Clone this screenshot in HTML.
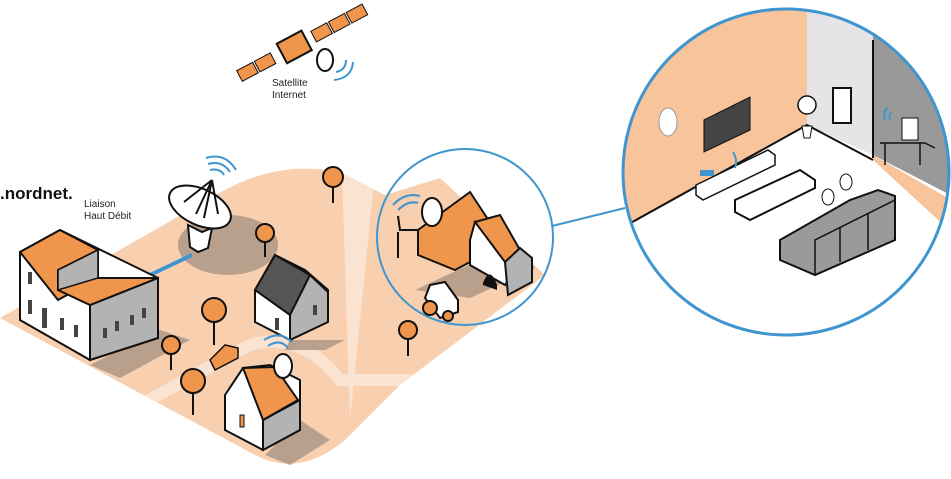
<!DOCTYPE html>
<html><head><meta charset="utf-8"><style>
html,body{margin:0;padding:0;background:#fff;}
svg{display:block;}
text{font-family:"Liberation Sans",sans-serif;}
</style></head><body>
<svg width="951" height="479" viewBox="0 0 951 479" xmlns="http://www.w3.org/2000/svg">
<defs>
<clipPath id="g"><path d="M0,318 L225,190 Q280,160 340,172 L385,195 L440,178 L545,275 L400,385 L345,440 Q300,478 255,455 Z"/></clipPath>
<clipPath id="c"><circle cx="786" cy="172" r="163"/></clipPath>
</defs>
<!-- ground -->
<path d="M0,318 L225,190 Q280,160 340,172 L385,195 L440,178 L545,275 L400,385 L345,440 Q300,478 255,455 Z" fill="#f8d0b0"/>
<g clip-path="url(#g)">
<path d="M140,405 L250,345 Q300,330 340,380 L420,380 L545,320" stroke="#fbe3d2" stroke-width="12" fill="none"/>
<path d="M342,172 L350,420 L375,172 Z" fill="#fbe3d2"/>
</g>
<!-- shadows -->
<ellipse cx="228" cy="245" rx="50" ry="30" fill="#b8a08c"/>
<path d="M160,330 L190,340 L120,378 L90,365 Z" fill="#b8a08c"/>
<path d="M290,340 L345,340 L325,350 L285,350 Z" fill="#b8a08c"/>
<path d="M265,455 L300,420 L330,440 L290,465 Z" fill="#b8a08c"/>
<!-- blue link -->
<line x1="150" y1="275" x2="192" y2="255" stroke="#3f95cf" stroke-width="4"/>
<!-- main building -->
<path d="M20,252 L60,230 L158,278 L158,338 L90,360 L20,320 Z" fill="#fff" stroke="#111" stroke-width="2"/>
<path d="M90,305 L158,278 L158,338 L90,360 Z" fill="#b3b3b3" stroke="#111" stroke-width="2"/>
<path d="M20,252 L60,230 L98,250 L98,278 L58,300 Z" fill="#f0954c" stroke="#111" stroke-width="2"/>
<path d="M58,270 L98,250 L98,278 L158,278 L90,305 L58,290 Z" fill="#f0954c" stroke="#111" stroke-width="2"/>
<path d="M58,270 L98,250 L98,278 L58,290 Z" fill="#b3b3b3" stroke="#111" stroke-width="1.5"/>
<g fill="#444"><rect x="28" y="272" width="4" height="12"/><rect x="28" y="300" width="4" height="14"/><rect x="42" y="308" width="5" height="20"/><rect x="60" y="318" width="4" height="12"/><rect x="74" y="325" width="4" height="12"/>
<rect x="103" y="328" width="4" height="10"/><rect x="115" y="321" width="4" height="10"/><rect x="130" y="315" width="4" height="10"/><rect x="142" y="308" width="4" height="10"/></g>
<!-- dish -->
<path d="M188,225 L202,232 L212,228 L208,248 L198,252 L190,247 Z" fill="#fff" stroke="#111" stroke-width="2"/>
<ellipse cx="200" cy="207" rx="33" ry="18" transform="rotate(25 200 207)" fill="#fff" stroke="#111" stroke-width="2"/>
<path d="M212,180 L184,202 M212,180 L204,218 M212,180 L218,214 M212,180 L196,214" stroke="#111" stroke-width="2"/>
<path d="M206,158 Q225,152 236,170 M208,164 Q222,160 230,172 M210,170 Q220,168 224,175" stroke="#3f95cf" stroke-width="2" fill="none"/>
<!-- grey house -->
<path d="M255,290 L275,255 L305,270 L328,290 L328,320 L290,340 L255,322 Z" fill="#fff" stroke="#111" stroke-width="2"/>
<path d="M290,310 L310,275 L328,292 L328,322 L290,340 Z" fill="#b3b3b3" stroke="#111" stroke-width="2"/>
<path d="M255,290 L275,255 L310,275 L290,315 Z" fill="#555" stroke="#111" stroke-width="2"/>
<rect x="313" y="305" width="4" height="10" fill="#444"/><rect x="275" y="318" width="4" height="12" fill="#444"/>
<!-- orange house -->
<path d="M225,395 L243,368 L270,365 L300,380 L300,430 L263,450 L225,430 Z" fill="#fff" stroke="#111" stroke-width="2"/>
<path d="M263,420 L300,400 L300,430 L263,450 Z" fill="#b3b3b3" stroke="#111" stroke-width="2"/>
<path d="M243,368 L275,367 L298,400 L263,420 Z" fill="#f0954c" stroke="#111" stroke-width="2"/>
<rect x="240" y="415" width="4" height="12" fill="#f0954c" stroke="#111"/>
<ellipse cx="283" cy="366" rx="9" ry="12" fill="#fff" stroke="#111" stroke-width="2"/>
<path d="M264,340 Q280,330 292,342 M268,346 Q280,338 288,348" stroke="#3f95cf" stroke-width="2" fill="none"/>
<!-- car -->
<path d="M210,360 L225,345 L238,348 L238,358 L215,370 Z" fill="#f0954c" stroke="#111" stroke-width="1.5"/>
<!-- trees -->
<g stroke="#111" stroke-width="2" fill="#f0954c">
<line x1="333" y1="178" x2="333" y2="203"/><circle cx="333" cy="177" r="10"/>
<line x1="265" y1="234" x2="265" y2="257"/><circle cx="265" cy="233" r="9"/>
<line x1="214" y1="312" x2="214" y2="345"/><circle cx="214" cy="310" r="12"/>
<line x1="171" y1="346" x2="171" y2="370"/><circle cx="171" cy="345" r="9"/>
<line x1="193" y1="383" x2="193" y2="415"/><circle cx="193" cy="381" r="12"/>
<line x1="408" y1="332" x2="408" y2="356"/><circle cx="408" cy="330" r="9"/>
</g>
<!-- small circle -->
<circle cx="465" cy="237" r="88" fill="none" stroke="#3f95cf" stroke-width="2"/>
<path d="M415,290 L512,245 L535,268 L470,298 Z" fill="#b8a08c"/>
<path d="M418,230 L470,192 L495,230 L495,250 L470,262 L455,270 L418,255 Z" fill="#f0954c" stroke="#111" stroke-width="2"/>
<path d="M470,240 L475,222 L520,262 L505,285 L470,265 Z" fill="#fff" stroke="#111" stroke-width="2"/>
<path d="M475,222 L500,215 L520,250 L505,262 Z" fill="#f0954c" stroke="#111" stroke-width="2"/>
<path d="M505,262 L520,248 L532,258 L532,282 L508,295 Z" fill="#b3b3b3" stroke="#111" stroke-width="2"/>
<path d="M483,283 Q490,265 497,285 L497,290 L483,285 Z" fill="#111"/>
<ellipse cx="432" cy="212" rx="10" ry="14" fill="#fff" stroke="#111" stroke-width="2"/>
<path d="M398,216 L400,230 L418,230 M398,232 L398,258" stroke="#111" stroke-width="2" fill="none"/>
<path d="M393,205 Q405,192 420,196 M398,210 Q408,200 418,203" stroke="#3f95cf" stroke-width="2" fill="none"/>
<path d="M425,298 L430,285 L445,282 L458,300 L458,312 L440,318 Z" fill="#fff" stroke="#111" stroke-width="2"/>
<circle cx="430" cy="308" r="7" fill="#f0954c" stroke="#111" stroke-width="2"/>
<circle cx="448" cy="316" r="5" fill="#f0954c" stroke="#111" stroke-width="2"/>
<!-- connector -->
<line x1="552" y1="226" x2="625" y2="208" stroke="#3f95cf" stroke-width="2"/>
<!-- big circle -->
<g clip-path="url(#c)">
<rect x="600" y="0" width="360" height="340" fill="#fff"/>
<path d="M600,0 L807,0 L807,125 L600,240 Z" fill="#f8c49c"/>
<path d="M807,0 L873,0 L873,155 L807,125 Z" fill="#e5e5e8"/>
<path d="M873,0 L960,0 L960,200 L873,155 Z" fill="#999"/>
<path d="M873,155 L960,205 L960,240 L873,160 Z" fill="#f8c49c"/>
<path d="M600,240 L807,125 L873,160 M873,40 L873,158" stroke="#111" stroke-width="2" fill="none"/>
<path d="M704,120 L750,97 L750,130 L704,152 Z" fill="#444" stroke="#111"/>
<rect x="833" y="88" width="18" height="35" fill="#fff" stroke="#111" stroke-width="2"/>
<path d="M696,185 L768,150 L775,155 L775,165 L703,200 L696,195 Z" fill="#fff" stroke="#111" stroke-width="1.5"/>
<rect x="700" y="170" width="14" height="6" fill="#3f95cf"/>
<path d="M735,200 L800,170 L815,180 L815,188 L750,220 L735,212 Z" fill="#fff" stroke="#111" stroke-width="2"/>
<path d="M780,240 L850,200 L878,190 L895,196 L895,240 L815,275 L780,260 Z" fill="#9a9a9a" stroke="#111" stroke-width="2"/>
<path d="M815,275 L815,240 L895,200 M840,228 L840,262 M868,214 L868,250" stroke="#111" stroke-width="1.5" fill="none"/>
<ellipse cx="828" cy="197" rx="6" ry="8" fill="#fff" stroke="#111"/>
<ellipse cx="846" cy="182" rx="6" ry="8" fill="#fff" stroke="#111"/>
<circle cx="807" cy="105" r="9" fill="#fff" stroke="#111" stroke-width="1.5"/>
<path d="M802,126 L812,126 L810,138 L804,138 Z" fill="#fff" stroke="#111"/>
<ellipse cx="668" cy="122" rx="9" ry="14" fill="#fff" stroke="#999"/>
<path d="M880,143 L925,143 L935,148 M885,143 L885,165 M920,143 L920,165" stroke="#111" stroke-width="1.5" fill="none"/>
<rect x="902" y="118" width="16" height="22" fill="#fff" stroke="#111"/>
<path d="M885,120 Q882,112 888,108 M890,120 Q888,115 892,112 M735,168 Q738,160 733,152" stroke="#3f95cf" stroke-width="2" fill="none"/>
</g>
<circle cx="786" cy="172" r="163" fill="none" stroke="#3f95cf" stroke-width="3"/>
<!-- satellite -->
<g transform="rotate(-28 300 45)">
<rect x="232" y="38" width="18" height="12" fill="#f0954c" stroke="#111"/>
<rect x="252" y="38" width="18" height="12" fill="#f0954c" stroke="#111"/>
<rect x="280" y="33" width="28" height="22" fill="#f0954c" stroke="#111" stroke-width="2"/>
<rect x="316" y="38" width="18" height="12" fill="#f0954c" stroke="#111"/>
<rect x="336" y="38" width="18" height="12" fill="#f0954c" stroke="#111"/>
<rect x="356" y="38" width="18" height="12" fill="#f0954c" stroke="#111"/>
</g>
<ellipse cx="325" cy="60" rx="8" ry="11" fill="#fff" stroke="#111" stroke-width="2"/>
<path d="M336,72 Q346,70 346,60 M334,80 Q352,78 353,62" stroke="#3f95cf" stroke-width="2" fill="none"/>
<text x="272" y="86" font-size="10" fill="#222">Satellite</text>
<text x="272" y="98" font-size="10" fill="#222">Internet</text>
<text x="0" y="199" font-size="17" fill="#111" font-weight="bold">.nordnet.</text>
<text x="84" y="207" font-size="10" fill="#222">Liaison</text>
<text x="84" y="219" font-size="10" fill="#222">Haut Débit</text>
</svg>
</body></html>
